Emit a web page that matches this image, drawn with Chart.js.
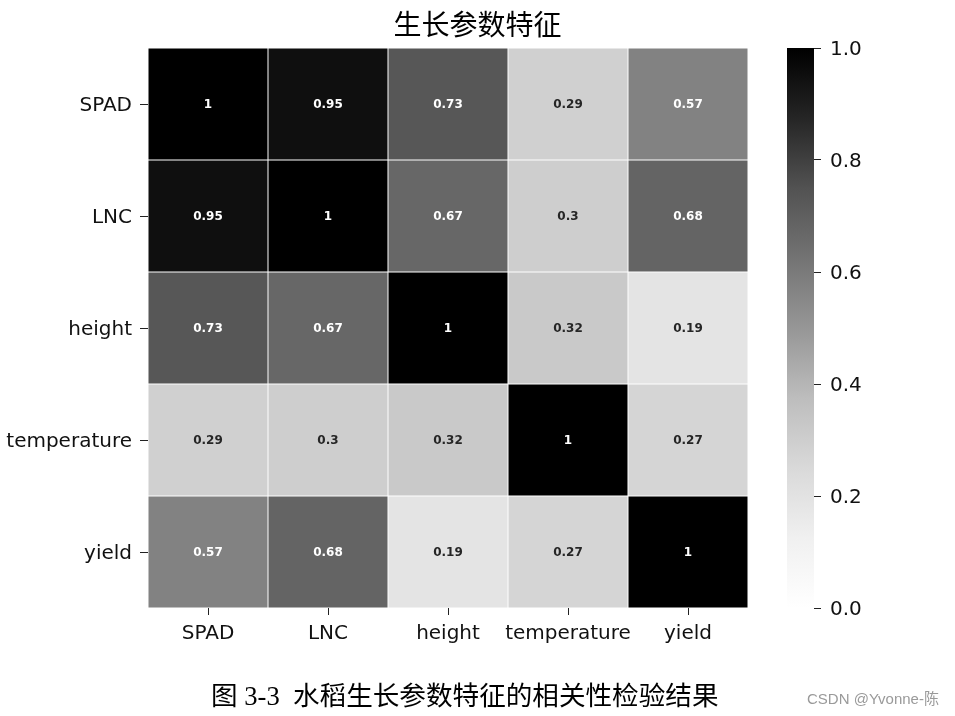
<!DOCTYPE html>
<html><head><meta charset="utf-8">
<script src="https://cdn.jsdelivr.net/npm/chart.js@4.4.0/dist/chart.umd.min.js"></script>
<style>
html,body{margin:0;padding:0;background:#fff;width:955px;height:716px;overflow:hidden;}
#main{position:absolute;left:0;top:0;}
#cbar{position:absolute;left:760px;top:0;}
#caption{position:absolute;left:211px;top:680px;font-family:"Liberation Serif","Noto Sans CJK SC",serif;font-size:26.6px;line-height:32px;color:#000;white-space:nowrap;}
#mark{position:absolute;left:807px;top:689px;font-family:"Liberation Sans","Noto Sans CJK SC",sans-serif;font-size:15px;line-height:20px;color:#9a9a9a;white-space:nowrap;}
</style></head><body>
<canvas id="main" width="955" height="716"></canvas>
<canvas id="cbar" width="195" height="716"></canvas>
<div id="caption">图 3-3&nbsp;&nbsp;水稻生长参数特征的相关性检验结果</div>
<div id="mark">CSDN @Yvonne-陈</div>
<script>
// ---- data ----
const variables = ['SPAD', 'LNC', 'height', 'temperature', 'yield'];
const rowSPAD = [1, 0.95, 0.73, 0.29, 0.57];
const rowLNC = [0.95, 1, 0.67, 0.3, 0.68];
const rowHeight = [0.73, 0.67, 1, 0.32, 0.19];
const rowTemperature = [0.29, 0.3, 0.32, 1, 0.27];
const rowYield = [0.57, 0.68, 0.19, 0.27, 1];
const colorbarTicks = [0, 0.2, 0.4, 0.6, 0.8, 1.0];
const chartTitle = '生长参数特征';

const rows = [rowSPAD, rowLNC, rowHeight, rowTemperature, rowYield];

// ---- colormap (matplotlib "Greys") ----
const greys = ['#ffffff','#f0f0f0','#d9d9d9','#bdbdbd','#969696','#737373','#525252','#252525','#000000'];
function hexLevel(h){ return parseInt(h.slice(1,3),16); }
function greyLevel(v){
  const t = Math.max(0, Math.min(1, v)) * 8;
  const i = Math.min(7, Math.floor(t));
  const f = t - i;
  return Math.round(hexLevel(greys[i]) * (1 - f) + hexLevel(greys[i+1]) * f);
}
function greyAt(v){ const g = greyLevel(v); return `rgb(${g},${g},${g})`; }
function lum(v){
  const c = greyLevel(v) / 255;
  return c <= 0.03928 ? c / 12.92 : Math.pow((c + 0.055) / 1.055, 2.4);
}

const tickFont = { family: '"DejaVu Sans", sans-serif', size: 20 };

const annotate = {
  id: 'annotate',
  afterDatasetsDraw(chart){
    const ctx = chart.ctx;
    ctx.save();
    ctx.font = 'bold 12px "DejaVu Sans", sans-serif';
    ctx.textAlign = 'center';
    ctx.textBaseline = 'middle';
    chart.data.datasets.forEach((ds, r) => {
      const meta = chart.getDatasetMeta(r);
      meta.data.forEach((el, c) => {
        const p = el.getProps(['x','y','base'], true);
        const v = rows[r][c];
        ctx.fillStyle = lum(v) > 0.408 ? '#262626' : '#ffffff';
        ctx.fillText(String(v), p.x, (p.y + p.base) / 2 + 1);
      });
    });
    ctx.restore();
  }
};

new Chart(document.getElementById('main'), {
  type: 'bar',
  data: {
    labels: variables,
    datasets: rows.map((vals, r) => ({
      label: variables[r],
      data: vals.map(() => [r, r + 1]),
      backgroundColor: vals.map(greyAt),
      borderColor: 'rgba(255,255,255,0.75)',
      borderWidth: 0.5,
      borderSkipped: false,
      inflateAmount: 0,
      grouped: false,
      categoryPercentage: 1,
      barPercentage: 1
    }))
  },
  options: {
    responsive: false,
    animation: false,
    devicePixelRatio: 1,
    layout: { padding: { left: 0, right: 0, top: 0, bottom: 58 } },
    plugins: {
      legend: { display: false },
      tooltip: { enabled: false },
      title: {
        display: true,
        text: chartTitle,
        color: '#000',
        font: { family: '"Noto Sans CJK SC", sans-serif', size: 28, weight: 'normal' },
        padding: { top: 8, bottom: 6.4 }
      }
    },
    scales: {
      x: {
        type: 'category',
        offset: true,
        grid: { display: true, drawOnChartArea: false, drawTicks: true, offset: false, tickLength: 7, tickWidth: 1, tickColor: '#222' },
        border: { display: false },
        ticks: { font: tickFont, color: '#111', padding: 7, maxRotation: 0, autoSkip: false },
        afterFit(s){ s.height = 50; }
      },
      y: {
        type: 'linear',
        min: 0, max: 5, reverse: true,
        afterBuildTicks(s){ s.ticks = variables.map((_, i) => ({ value: i + 0.5 })); },
        grid: { display: true, drawOnChartArea: false, drawTicks: true, tickLength: 8, tickWidth: 1, tickColor: '#222' },
        border: { display: false },
        ticks: { font: tickFont, color: '#111', padding: 8, labelOffset: 2, callback: (v) => variables[Math.floor(v)] },
        afterFit(s){ s.width = 148; }
      },
      yRight: {
        axis: 'y', type: 'linear', position: 'right', display: true,
        grid: { display: false }, border: { display: false }, ticks: { display: false },
        afterFit(s){ s.width = 207; }
      }
    }
  },
  plugins: [annotate]
});

new Chart(document.getElementById('cbar'), {
  type: 'bar',
  data: {
    labels: ['colorbar'],
    datasets: [{
      data: [[0, 1]],
      backgroundColor: (c) => {
        const ch = c.chart, ca = ch.chartArea;
        if (!ca) return '#888';
        const y = ch.scales.y;
        const g = ch.ctx.createLinearGradient(0, y.getPixelForValue(0), 0, y.getPixelForValue(1));
        greys.forEach((col, i) => g.addColorStop(i / 8, col));
        return g;
      },
      borderWidth: 0,
      inflateAmount: 0,
      categoryPercentage: 1,
      barPercentage: 1
    }]
  },
  options: {
    responsive: false,
    animation: false,
    devicePixelRatio: 1,
    layout: { padding: { left: 27, right: 0, top: 48, bottom: 108 } },
    plugins: { legend: { display: false }, tooltip: { enabled: false }, title: { display: false } },
    scales: {
      x: { display: false },
      y: {
        position: 'right', min: 0, max: 1,
        afterBuildTicks(s){ s.ticks = colorbarTicks.map(v => ({ value: v })); },
        grid: { display: true, drawOnChartArea: false, drawTicks: true, tickLength: 7, tickWidth: 1, tickColor: '#222' },
        border: { display: false },
        ticks: { font: tickFont, color: '#111', padding: 9, labelOffset: 2, callback: (v) => Number(v).toFixed(1) },
        afterFit(s){ s.width = 141; }
      }
    }
  }
});
</script>
</body></html>
